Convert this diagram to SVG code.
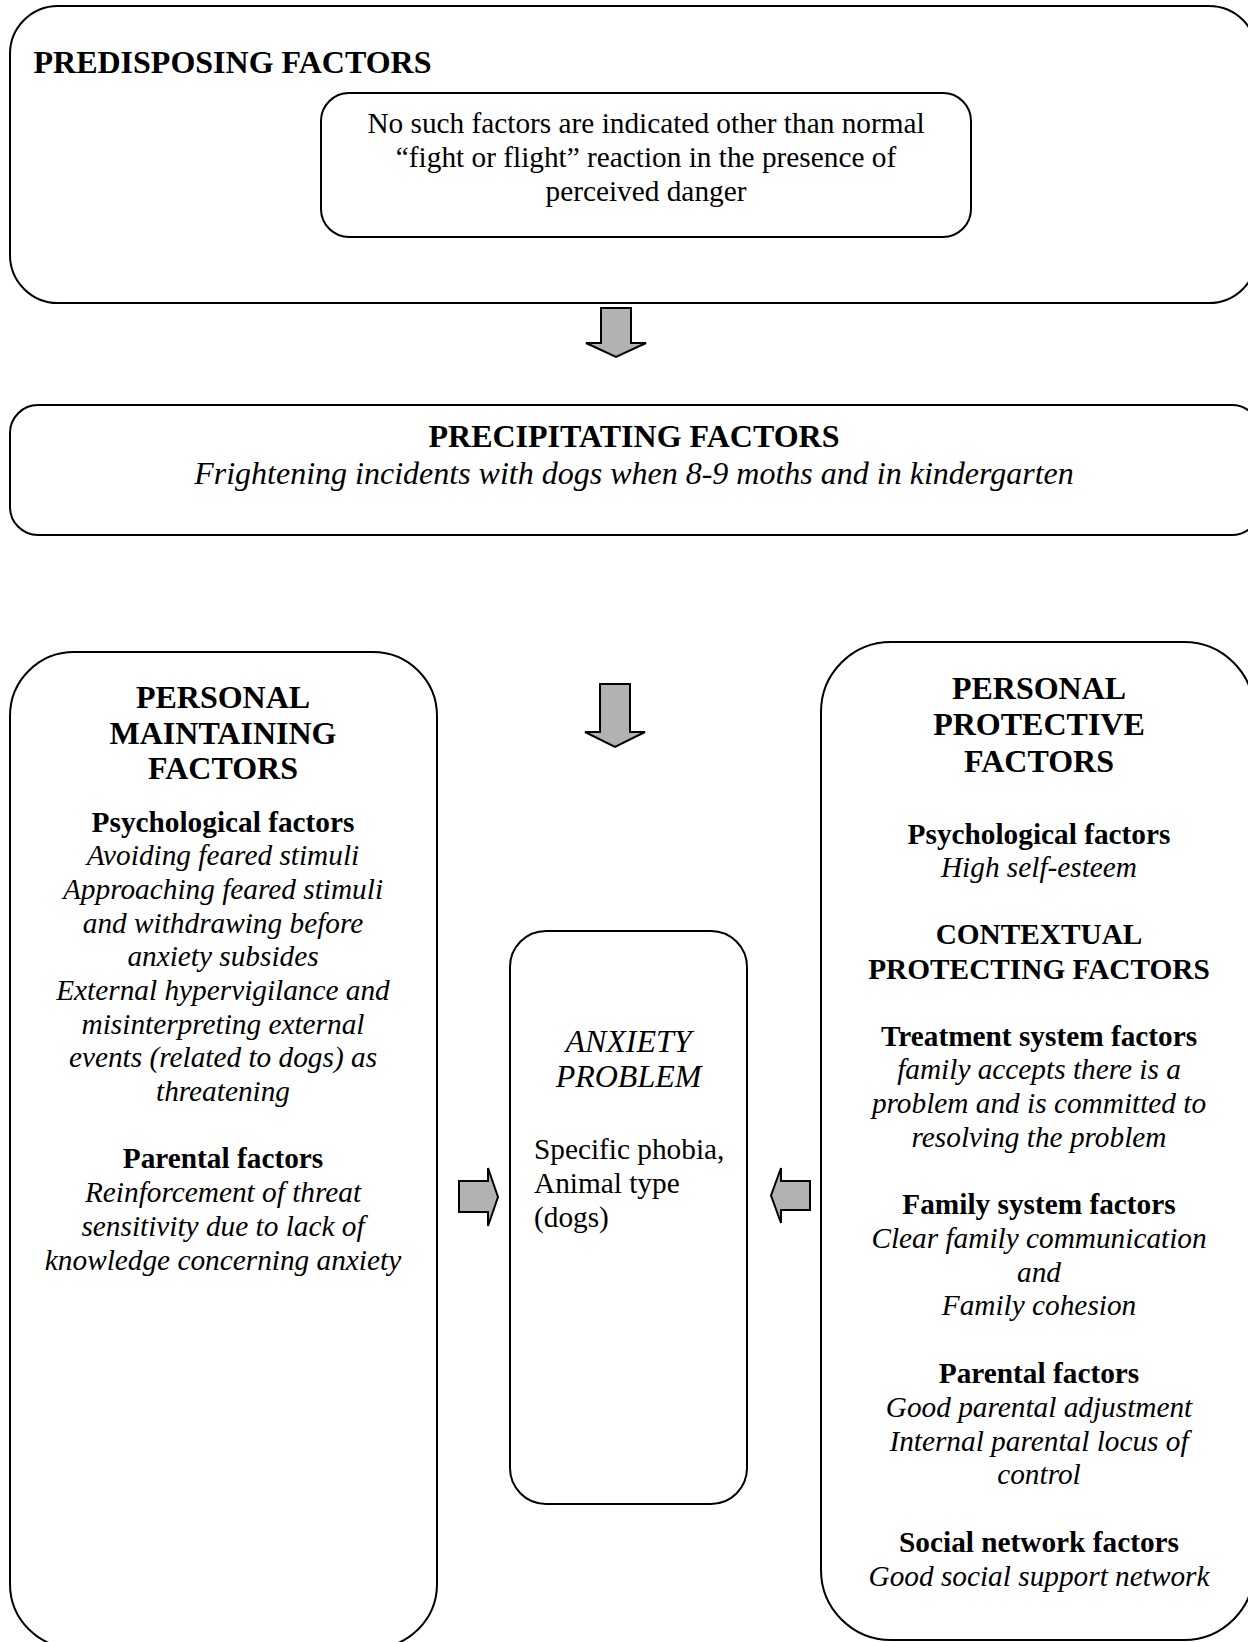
<svg xmlns="http://www.w3.org/2000/svg" width="1248" height="1642" viewBox="0 0 1248 1642">
<style>
.box{fill:#ffffff;stroke:#000000;stroke-width:2}
.arr{fill:#b2b2b2;stroke:#000000;stroke-width:2;stroke-linejoin:miter}
text{font-family:"Liberation Serif","Times New Roman",serif;fill:#000000}
.h{font-size:32px;font-weight:bold;text-anchor:middle}
.hs{font-size:29.3px;font-weight:bold;text-anchor:middle}
.i{font-size:29.3px;font-style:italic;text-anchor:middle}
.r{font-size:29.3px;text-anchor:middle}
</style>
<rect width="1248" height="1642" fill="#ffffff"/>
<g id="predisposing">
<rect class="box" x="10" y="6" width="1247" height="297" rx="48" ry="48"/>
<text x="33.5" y="73" style="font-size:32px;font-weight:bold">PREDISPOSING FACTORS</text>
</g>
<g id="predisposing-detail">
<rect class="box" x="321" y="93" width="650" height="144" rx="28" ry="28"/>
<text class="r" x="646" y="133">No such factors are indicated other than normal</text>
<text class="r" x="646" y="167">“fight or flight” reaction in the presence of</text>
<text class="r" x="646" y="201">perceived danger</text>
</g>
<g id="precipitating">
<rect class="box" x="10" y="405" width="1250" height="130" rx="28" ry="28"/>
<text class="h" x="634" y="447">PRECIPITATING FACTORS</text>
<text x="634" y="484" style="font-size:32px;font-style:italic;text-anchor:middle">Frightening incidents with dogs when 8-9 moths and in kindergarten</text>
</g>
<g id="maintaining">
<rect class="box" x="10" y="652" width="427" height="996" rx="64" ry="64"/>
<text class="h" x="223" y="708">PERSONAL</text>
<text class="h" x="223" y="744">MAINTAINING</text>
<text class="h" x="223" y="779">FACTORS</text>
<text class="hs" x="223" y="831.5">Psychological factors</text>
<text class="i" x="223" y="865">Avoiding feared stimuli</text>
<text class="i" x="223" y="899">Approaching feared stimuli</text>
<text class="i" x="223" y="932.5">and withdrawing before</text>
<text class="i" x="223" y="966">anxiety subsides</text>
<text class="i" x="223" y="1000">External hypervigilance and</text>
<text class="i" x="223" y="1033.5">misinterpreting external</text>
<text class="i" x="223" y="1067">events (related to dogs) as</text>
<text class="i" x="223" y="1100.5">threatening</text>
<text class="hs" x="223" y="1168">Parental factors</text>
<text class="i" x="223" y="1202">Reinforcement of threat</text>
<text class="i" x="223" y="1236">sensitivity due to lack of</text>
<text class="i" x="223" y="1269.5">knowledge concerning anxiety</text>
</g>
<g id="anxiety-problem">
<rect class="box" x="510" y="931" width="237" height="573" rx="36" ry="36"/>
<text x="628.5" y="1052" style="font-size:32px;font-style:italic;text-anchor:middle">ANXIETY</text>
<text x="628.5" y="1087" style="font-size:32px;font-style:italic;text-anchor:middle">PROBLEM</text>
<text x="534" y="1159" style="font-size:29.3px">Specific phobia,</text>
<text x="534" y="1193" style="font-size:29.3px">Animal type</text>
<text x="534" y="1227" style="font-size:29.3px">(dogs)</text>
</g>
<g id="protective">
<rect class="box" x="821" y="642" width="433" height="998" rx="70" ry="70"/>
<text class="h" x="1039" y="698.5">PERSONAL</text>
<text class="h" x="1039" y="735">PROTECTIVE</text>
<text class="h" x="1039" y="772">FACTORS</text>
<text class="hs" x="1039" y="843.5">Psychological factors</text>
<text class="i" x="1039" y="877">High self-esteem</text>
<text class="hs" x="1039" y="944">CONTEXTUAL</text>
<text class="hs" x="1039" y="978.5">PROTECTING FACTORS</text>
<text class="hs" x="1039" y="1045.5">Treatment system factors</text>
<text class="i" x="1039" y="1079">family accepts there is a</text>
<text class="i" x="1039" y="1112.8">problem and is committed to</text>
<text class="i" x="1039" y="1146.6">resolving the problem</text>
<text class="hs" x="1039" y="1214">Family system factors</text>
<text class="i" x="1039" y="1247.8">Clear family communication</text>
<text class="i" x="1039" y="1281.6">and</text>
<text class="i" x="1039" y="1315.4">Family cohesion</text>
<text class="hs" x="1039" y="1383">Parental factors</text>
<text class="i" x="1039" y="1416.8">Good parental adjustment</text>
<text class="i" x="1039" y="1450.6">Internal parental locus of</text>
<text class="i" x="1039" y="1484.4">control</text>
<text class="hs" x="1039" y="1552">Social network factors</text>
<text class="i" x="1039" y="1585.8">Good social support network</text>
</g>
<g id="connectors">
<path class="arr" d="M601,308 H631 V343 H646 L616,357 L586,343 H601 Z"/>
<path class="arr" d="M600,684 H630 V732 H645 L615,747 L585,732 H600 Z"/>
<path class="arr" d="M459,1181 H488 V1168 L498,1197 L488,1226 V1212 H459 Z"/>
<path class="arr" d="M810,1181 H781 V1168 L771,1195.5 L781,1223 V1210 H810 Z"/>
</g>
</svg>
